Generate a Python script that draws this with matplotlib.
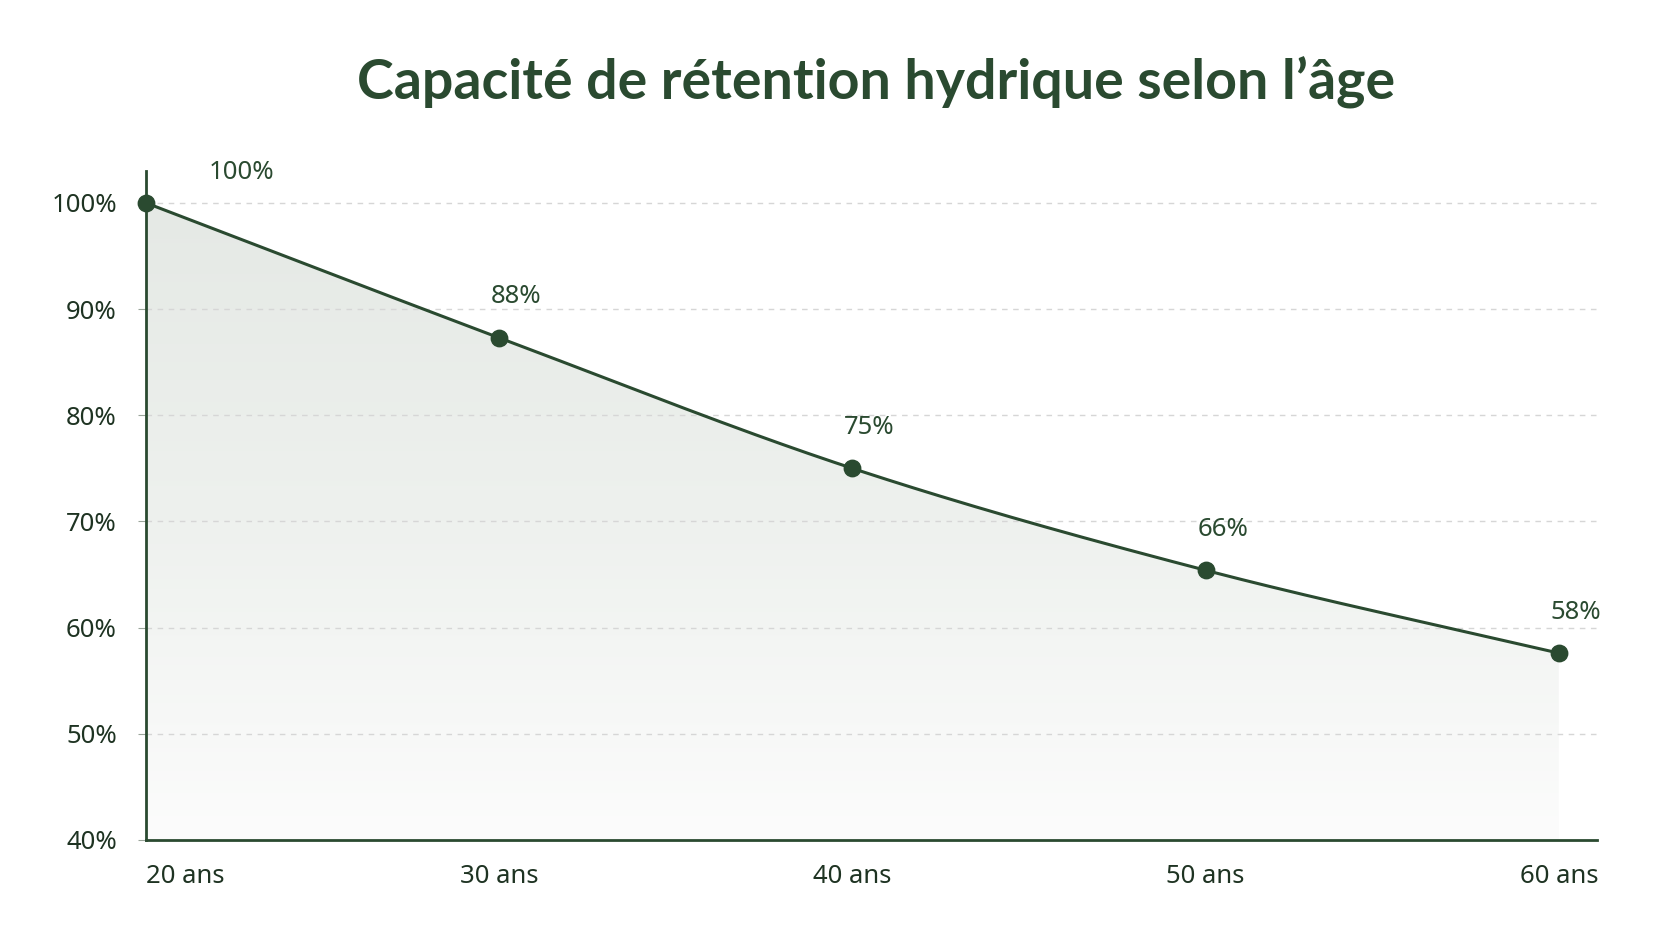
import matplotlib
matplotlib.use("Agg")
import matplotlib.pyplot as plt
import numpy as np
from matplotlib.path import Path
from matplotlib.patches import PathPatch
from matplotlib.colors import LinearSegmentedColormap

plt.rcParams["font.family"] = ["Noto Sans", "DejaVu Sans"]

# data
categories = ["20 ans", "30 ans", "40 ans", "50 ans", "60 ans"]
retention = [100.0, 87.3, 75.0, 65.4, 57.6]
point_labels = ["100%", "88%", "75%", "66%", "58%"]
y_ticks = [40, 50, 60, 70, 80, 90, 100]
y_tick_labels = ["40%", "50%", "60%", "70%", "80%", "90%", "100%"]

GREEN = "#2a4a30"
TEXT = "#1e3322"
GRID = "#d6d6d6"


def catmull_rom(xs, ys, n=40):
    """Smooth path through the points (drawing only)."""
    px = np.concatenate([[2 * xs[0] - xs[1]], xs, [2 * xs[-1] - xs[-2]]])
    py = np.concatenate([[2 * ys[0] - ys[1]], ys, [2 * ys[-1] - ys[-2]]])
    out_x, out_y = [], []
    for i in range(1, len(px) - 2):
        t = np.linspace(0, 1, n, endpoint=(i == len(px) - 3))
        for arr, out in ((px, out_x), (py, out_y)):
            p0, p1, p2, p3 = arr[i - 1], arr[i], arr[i + 1], arr[i + 2]
            out.extend(0.5 * (2 * p1 + (-p0 + p2) * t
                              + (2 * p0 - 5 * p1 + 4 * p2 - p3) * t ** 2
                              + (-p0 + 3 * p1 - 3 * p2 + p3) * t ** 3))
    return np.array(out_x), np.array(out_y)


x = np.arange(len(categories), dtype=float)
y = np.array(retention)
sx, sy = catmull_rom(x, y)

fig = plt.figure(figsize=(16.72, 9.41), dpi=100)
fig.patch.set_facecolor("white")
ax = fig.add_axes([0.0873, 0.1074, 0.8678, 0.7108])
ax.set_facecolor("white")

ymin, ymax = 40, 103.0
xmin, xmax = 0, 4.108
ax.set_xlim(xmin, xmax)
ax.set_ylim(ymin, ymax)

# gradient fill under the curve
cmap = LinearSegmentedColormap.from_list("fade", ["#fcfcfc", "#eef1ee", "#e5e9e5"])
grad = np.linspace(0, 1, 256).reshape(-1, 1)
img = ax.imshow(grad, cmap=cmap, aspect="auto", origin="lower",
                extent=[x[0], x[-1], ymin, y.max()], zorder=1)
verts = np.column_stack([np.concatenate([sx, [x[-1], x[0]]]),
                         np.concatenate([sy, [ymin, ymin]])])
clip = PathPatch(Path(verts, closed=False), transform=ax.transData,
                 facecolor="none", edgecolor="none")
ax.add_patch(clip)
img.set_clip_path(clip)

# gridlines
for t in y_ticks[1:]:
    ax.axhline(t, color=GRID, lw=1, ls=(0, (4, 4)), zorder=2)

ax.plot(sx, sy, color=GREEN, lw=2.2, zorder=3)
ax.scatter(x, y, s=140, color=GREEN, zorder=4, clip_on=False)

for i, (xi, yi, lab) in enumerate(zip(x, y, point_labels)):
    dx = 96 if i == 0 else 17
    dy = 30 if i == 0 else 41
    ax.annotate(lab, (xi, yi), xytext=(dx * 0.72, dy * 0.72),
                textcoords="offset points", ha="center", va="center",
                fontsize=18.5, color=GREEN)

ax.set_yticks(y_ticks)
ax.set_yticklabels(y_tick_labels, fontsize=18.5, color=TEXT)
ax.set_xticks(x)
ax.set_xticklabels(categories, fontsize=18.5, color=TEXT)
ax.get_xticklabels()[0].set_horizontalalignment("left")
ax.tick_params(axis="y", length=6, color="#9aa59a", pad=15)
ax.tick_params(axis="x", length=0, pad=17)

for s in ("top", "right"):
    ax.spines[s].set_visible(False)
for s in ("left", "bottom"):
    ax.spines[s].set_color(GREEN)
    ax.spines[s].set_linewidth(2)
    ax.spines[s].set_zorder(5)

fig.text(0.524, 0.912, "Capacité de rétention hydrique selon l’âge",
         ha="center", va="center", fontsize=40, fontweight="bold",
         color="#2a4a30", family=["Lato", "DejaVu Sans"])

fig.savefig("out.png", dpi=100, facecolor=fig.get_facecolor())
